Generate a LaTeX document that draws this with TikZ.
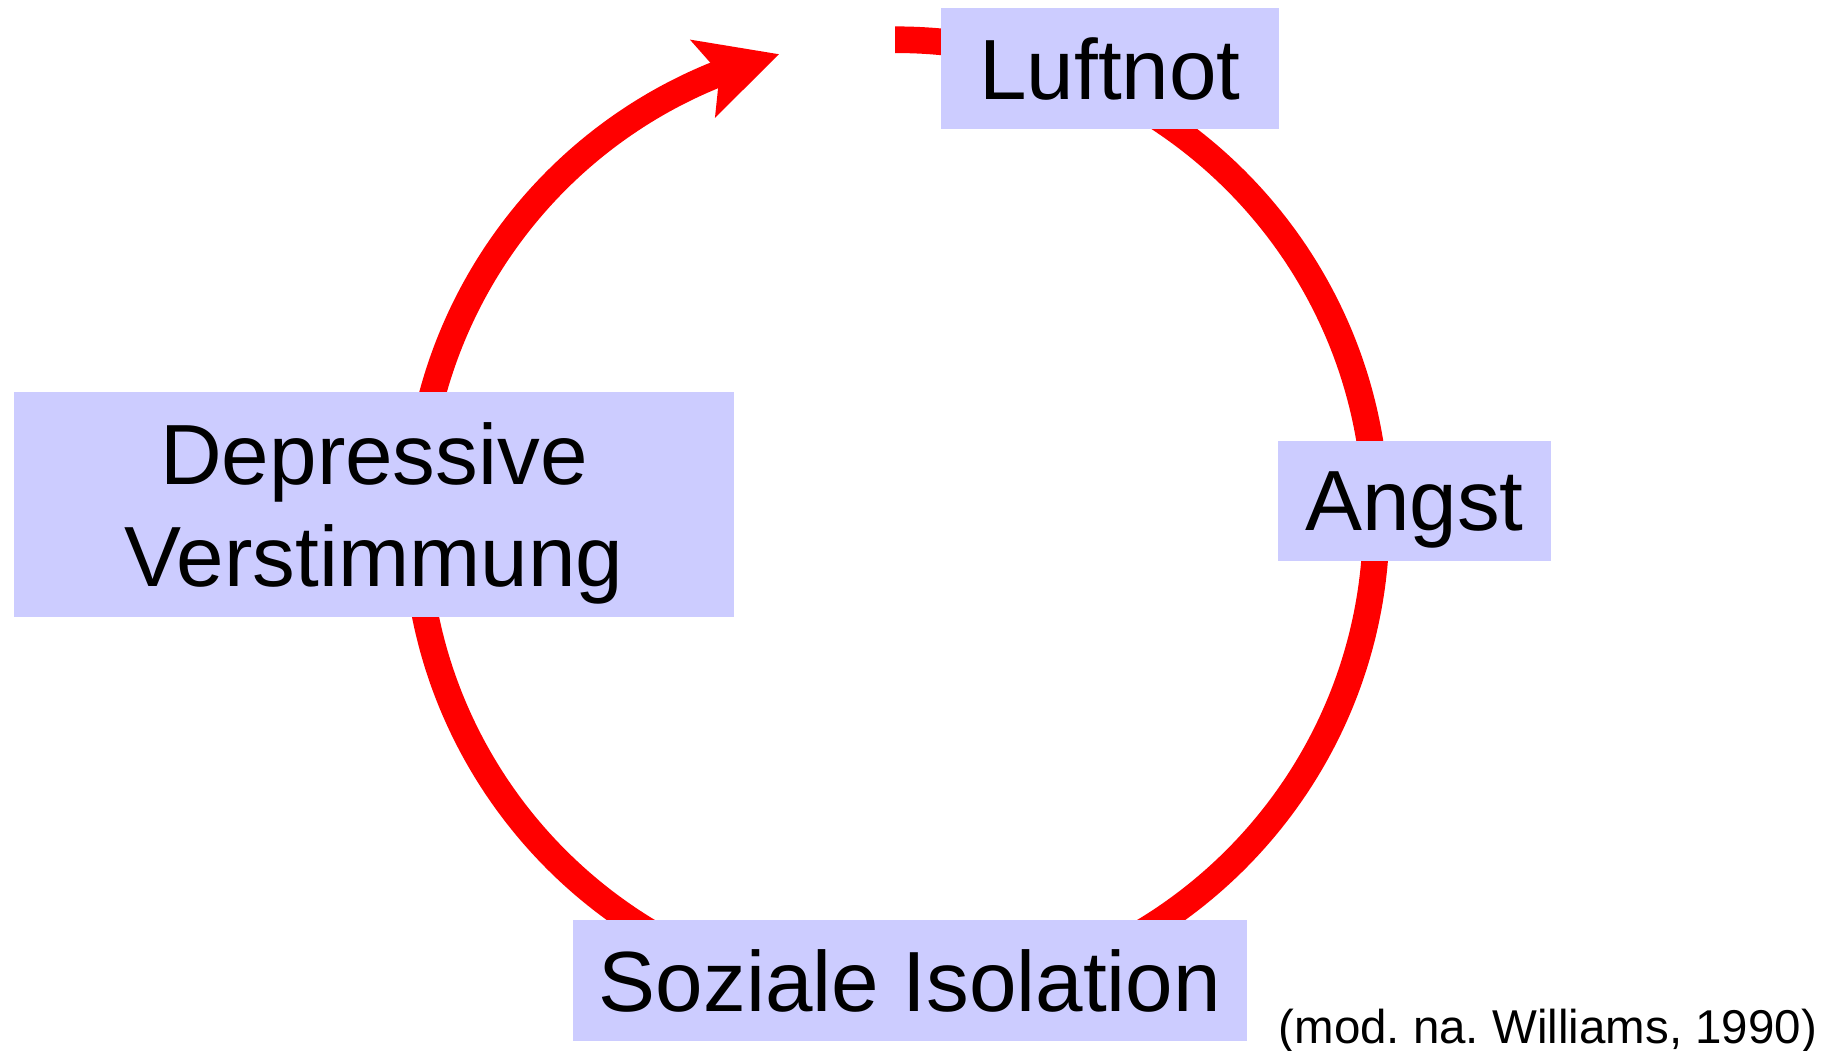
\documentclass[tikz,border=0pt]{standalone}
\usepackage{fontspec}
\setmainfont{Liberation Sans}
\usetikzlibrary{arrows.meta,bending}
\definecolor{boxfill}{HTML}{CCCCFF}
\definecolor{cyclered}{HTML}{FF0000}
\begin{document}
\begin{tikzpicture}[x=0.01cm,y=0.01cm,
  stage/.style={fill=boxfill, draw=none, inner sep=0pt, text depth=0pt,
    align=center, font=\fontsize{24.3pt}{29pt}\selectfont},
  cycle/.style={draw=cyclered, line width=0.266cm, line cap=butt},
  note/.style={inner sep=0pt, font=\fontsize{13.5pt}{16pt}\selectfont\frenchspacing}]
  \useasboundingbox[fill=white] (0,0) rectangle (1838,1050);
  % centre of the cycle
  \coordinate (O) at (896,530);
  % the vicious circle, drawn clockwise from Luftnot back to itself
  \draw[cycle, -{Stealth[length=0.79cm, width=0.79cm, inset=0.165cm, flex]}]
    (O) ++(90.1:4.8cm) arc[start angle=90.1, end angle=-255.93, radius=4.8cm];
  % the four stages
  \node[stage, minimum width=3.37cm, minimum height=1.21cm] (luft) at (1110,981.5) {Luftnot};
  \node[stage, minimum width=2.73cm, minimum height=1.20cm] (angst) at (1414.5,549) {Angst};
  \node[stage, minimum width=7.20cm, minimum height=2.24cm] (depr) at (374,545.5) {Depressive\\Verstimmung};
  \node[stage, minimum width=6.73cm, minimum height=1.21cm] (sozial) at (910,69.5) {Soziale Isolation};
  % source
  \node[note, anchor=base west] (cite) at (1278,7) {(mod. na. Williams, 1990)};
\end{tikzpicture}
\end{document}
